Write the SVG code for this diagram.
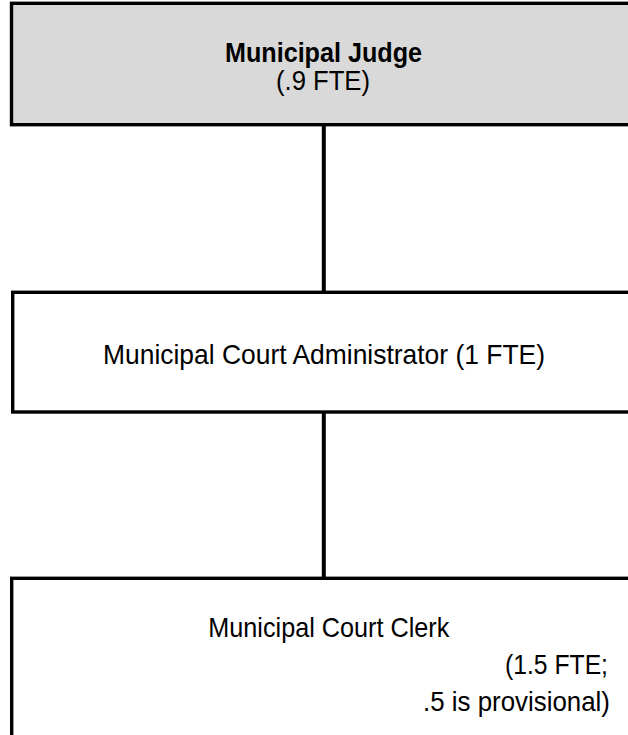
<svg xmlns="http://www.w3.org/2000/svg" width="628" height="735" viewBox="0 0 628 735">
  <style>
    .box { stroke: #000; stroke-width: 3.4; }
    .conn { stroke: #000; stroke-width: 4; fill: none; }
    text { font-family: "Liberation Sans", Arial, sans-serif; fill: #000; font-size: 28px; }
    .b { font-weight: bold; }
  </style>
  <rect x="0" y="0" width="628" height="735" fill="#ffffff"/>
  <g id="connectors">
    <line class="conn" x1="323.8" y1="124" x2="323.8" y2="293"/>
    <line class="conn" x1="323.8" y1="411" x2="323.8" y2="579"/>
  </g>
  <g id="node-judge">
    <rect class="box" x="11.5" y="3.3" width="640" height="121.4" fill="#d9d9d9"/>
    <text class="b" x="225" y="62" textLength="197" lengthAdjust="spacingAndGlyphs">Municipal Judge</text>
    <text x="276" y="90" textLength="94" lengthAdjust="spacingAndGlyphs">(.9 FTE)</text>
  </g>
  <g id="node-administrator">
    <rect class="box" x="12.7" y="292.3" width="640" height="119.7" fill="#ffffff"/>
    <text x="103" y="364" textLength="442" lengthAdjust="spacingAndGlyphs">Municipal Court Administrator (1 FTE)</text>
  </g>
  <g id="node-clerk">
    <rect class="box" x="11.7" y="578.3" width="640" height="200" fill="#ffffff"/>
    <text x="208.3" y="637" textLength="241" lengthAdjust="spacingAndGlyphs">Municipal Court Clerk</text>
    <text x="505" y="674" textLength="103" lengthAdjust="spacingAndGlyphs">(1.5 FTE;</text>
    <text x="423" y="711" textLength="187" lengthAdjust="spacingAndGlyphs">.5 is provisional)</text>
  </g>
</svg>
